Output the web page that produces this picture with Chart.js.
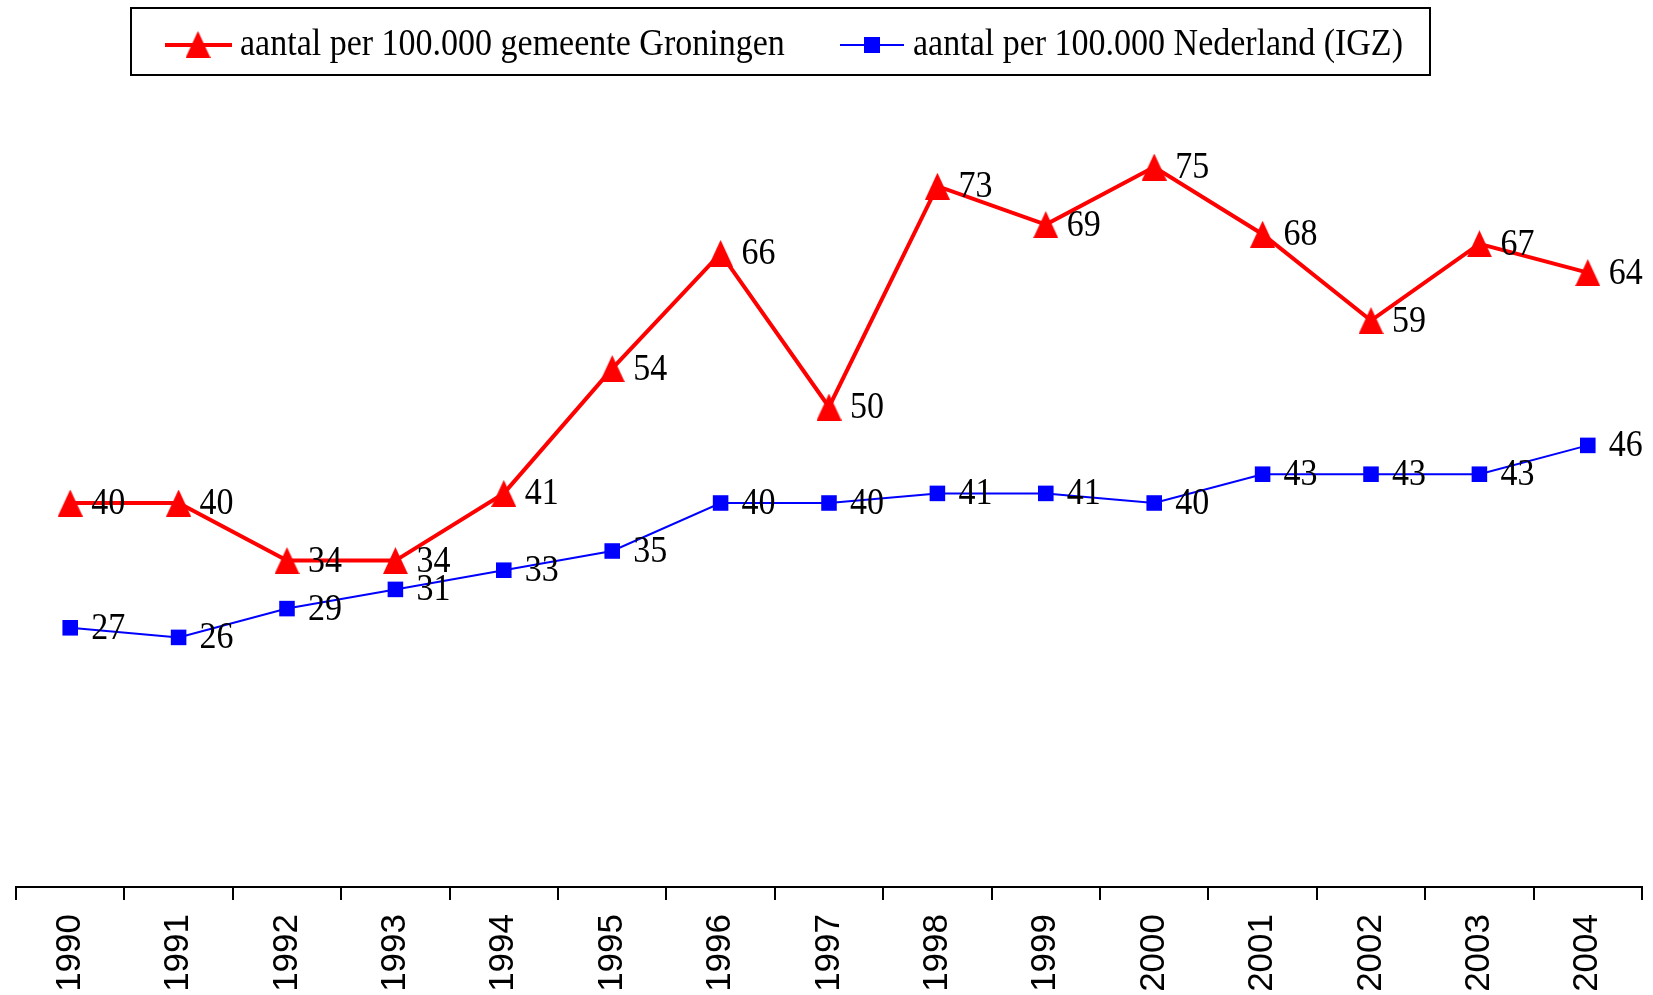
<!DOCTYPE html>
<html lang="nl">
<head>
  <meta charset="UTF-8">
  <title>Aantal per 100.000</title>
  <script src="https://cdn.jsdelivr.net/npm/chart.js"></script>
  <style>
    body { margin: 0; background: #fff; }
  </style>
</head>
<body>
  <canvas id="lijnGrafiek" width="1653" height="995"></canvas>

  <script>
    // jaren op de x-as
    const jaren = ['1990', '1991', '1992', '1993', '1994', '1995', '1996', '1997',
                   '1998', '1999', '2000', '2001', '2002', '2003', '2004'];

    // aantal per 100.000 gemeente Groningen
    const groningen = [40, 40, 34, 34, 41, 54, 66, 50, 73, 69, 75, 68, 59, 67, 64];

    // aantal per 100.000 Nederland (IGZ)
    const nederland = [27, 26, 29, 31, 33, 35, 40, 40, 41, 41, 40, 43, 43, 43, 46];

    const labelGroningen = 'aantal per 100.000 gemeente Groningen';
    const labelNederland = 'aantal per 100.000 Nederland (IGZ)';

    const serif = '"Liberation Serif", "Times New Roman", serif';
    const rek = 1.12; // tekst in het origineel is iets uitgerekt

    // driehoek iets hoger dan breed, zoals in het origineel
    function maakDriehoek(b, h) {
      const c = document.createElement('canvas');
      c.width = b;
      c.height = h;
      const g = c.getContext('2d');
      g.fillStyle = '#ff0000';
      g.beginPath();
      g.moveTo(b / 2, 0);
      g.lineTo(b, h);
      g.lineTo(0, h);
      g.closePath();
      g.fill();
      return c;
    }
    const driehoek = maakDriehoek(25, 27);

    function tekstUitgerekt(ctx, tekst, x, y) {
      ctx.save();
      ctx.translate(x, y);
      ctx.scale(1, rek);
      ctx.fillText(tekst, 0, 0);
      ctx.restore();
    }

    // waarden naast de punten
    const waardeLabels = {
      id: 'waardeLabels',
      afterDatasetsDraw(chart) {
        const ctx = chart.ctx;
        ctx.save();
        ctx.font = '34px ' + serif;
        ctx.fillStyle = '#000';
        ctx.textAlign = 'left';
        ctx.textBaseline = 'middle';
        chart.data.datasets.forEach((ds, i) => {
          chart.getDatasetMeta(i).data.forEach((pt, j) => {
            tekstUitgerekt(ctx, String(ds.data[j]), pt.x + 21, pt.y + 1);
          });
        });
        ctx.restore();
      }
    };

    // legenda met kader bovenaan
    const legendaKader = {
      id: 'legendaKader',
      afterDraw(chart) {
        const ctx = chart.ctx;
        const midY = 45;
        ctx.save();
        ctx.strokeStyle = '#000';
        ctx.lineWidth = 2;
        ctx.strokeRect(131, 8, 1299, 67);

        // rood: lijn + driehoek
        ctx.strokeStyle = '#ff0000';
        ctx.lineWidth = 4;
        ctx.beginPath();
        ctx.moveTo(165, midY);
        ctx.lineTo(232, midY);
        ctx.stroke();
        ctx.drawImage(driehoek, 198 - 12.5, midY - 14);

        // blauw: lijn + vierkant
        ctx.strokeStyle = '#0000ff';
        ctx.fillStyle = '#0000ff';
        ctx.lineWidth = 2;
        ctx.beginPath();
        ctx.moveTo(840, midY);
        ctx.lineTo(904, midY);
        ctx.stroke();
        ctx.fillRect(864, midY - 8, 16, 16);

        ctx.fillStyle = '#000';
        ctx.font = '34px ' + serif;
        ctx.textAlign = 'left';
        ctx.textBaseline = 'middle';
        tekstUitgerekt(ctx, labelGroningen, 240, midY);
        tekstUitgerekt(ctx, labelNederland, 913, midY);
        ctx.restore();
      }
    };

    const ctx = document.getElementById('lijnGrafiek').getContext('2d');
    const grafiek = new Chart(ctx, {
      type: 'line',
      data: {
        labels: jaren,
        datasets: [
          {
            label: labelGroningen,
            data: groningen,
            borderColor: '#ff0000',
            backgroundColor: '#ff0000',
            borderWidth: 4,
            pointStyle: driehoek,
            pointBorderWidth: 0,
            tension: 0
          },
          {
            label: labelNederland,
            data: nederland,
            borderColor: '#0000ff',
            backgroundColor: '#0000ff',
            borderWidth: 2,
            pointStyle: 'rect',
            pointRadius: 11,
            pointBorderWidth: 0,
            tension: 0
          }
        ]
      },
      options: {
        responsive: false,
        animation: false,
        devicePixelRatio: 1,
        layout: {
          padding: { top: 119, left: 16, right: 11, bottom: 0 }
        },
        plugins: {
          legend: { display: false },
          tooltip: { enabled: false }
        },
        scales: {
          x: {
            offset: true,
            afterFit(scale) { scale.height = 108; },
            grid: {
              offset: true,
              drawOnChartArea: false,
              drawTicks: true,
              tickLength: 13,
              color: '#000',
              lineWidth: 2
            },
            border: { color: '#000', width: 2 },
            ticks: {
              color: '#000',
              font: { family: '"Liberation Sans", Arial, sans-serif', size: 35 },
              maxRotation: 90,
              minRotation: 90,
              padding: 14,
              autoSkip: false
            }
          },
          y: {
            display: false,
            min: 0,
            max: 80
          }
        }
      },
      plugins: [waardeLabels, legendaKader]
    });
  </script>
</body>
</html>
